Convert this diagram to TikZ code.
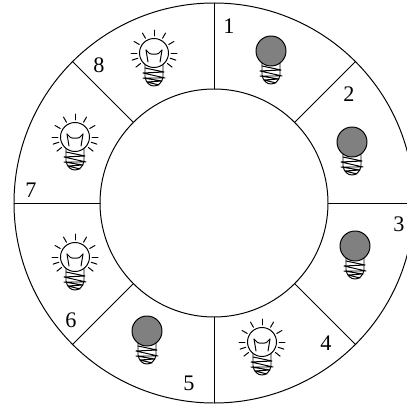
\documentclass[tikz,border=0pt]{standalone}
\usepackage{fontspec}
\setmainfont{Liberation Serif}
\usetikzlibrary{calc}
\tikzset{
	lbl/.style={font=\fontsize{15.8}{18}\selectfont,inner sep=0pt},
	bulbbase/.pic={
		\draw (-9,11) -- (-9,24) .. controls (-8,30) and (-4,33) .. (0,33) .. controls (4,33) and (8,30) .. (9,24) -- (9,11);
		\draw (-9,15) -- (10,19) -- (-11,20) -- (11,25) -- (-11,25) -- (8,28) -- (-7,29) -- (5,32);
	},
	litbulb/.pic={
		\pic {bulbbase};
		\draw[fill=white] (0,0) circle (14.5);
		\draw (-8,-3) -- (-4.5,0.5) .. controls (-2,1.5) and (2,1.5) .. (4.5,0.5) -- (8,-3);
		\draw (-8,-3) -- (-6,9);
		\draw (8,-3) -- (6,9);
		\foreach \a in {-90,-60,-30,0,18,38,-120,-150,180,162,142}
			\draw (\a:17) -- (\a:23);
	},
	darkbulb/.pic={
		\pic {bulbbase};
		\draw[fill=gray] (0,0) circle (15);
	}
}
\begin{document}
\begin{tikzpicture}[x=0.025cm,y=-0.025cm,line width=0.7pt,line join=round,line cap=round]
	\useasboundingbox (0,0) rectangle (407,407);
	\clip (0,0) rectangle (407,407);
	\path
	(214,203)coordinate(O)
	;
	\draw (O) circle (200);
	\draw[fill=white] (O) circle (114);
	\foreach \a in {0,45,...,315}
		\draw ($(O)+(\a:114)$) -- ($(O)+(\a:200)$);
	\path (271,51) pic {darkbulb};
	\path (352,142) pic {darkbulb};
	\path (355,246) pic {darkbulb};
	\path (262,342) pic {litbulb};
	\path (147,331) pic {darkbulb};
	\path (75,257) pic {litbulb};
	\path (75,137) pic {litbulb};
	\path (154,53) pic {litbulb};
	\node[lbl] (n1) at (229,26) {1};
	\node[lbl] (n2) at (349,94) {2};
	\node[lbl] (n3) at (399,224) {3};
	\node[lbl] (n4) at (326,343) {4};
	\node[lbl] (n5) at (189,383) {5};
	\node[lbl] (n6) at (71,320) {6};
	\node[lbl] (n7) at (31,190) {7};
	\node[lbl] (n8) at (99,65) {8};
\end{tikzpicture}
\end{document}
